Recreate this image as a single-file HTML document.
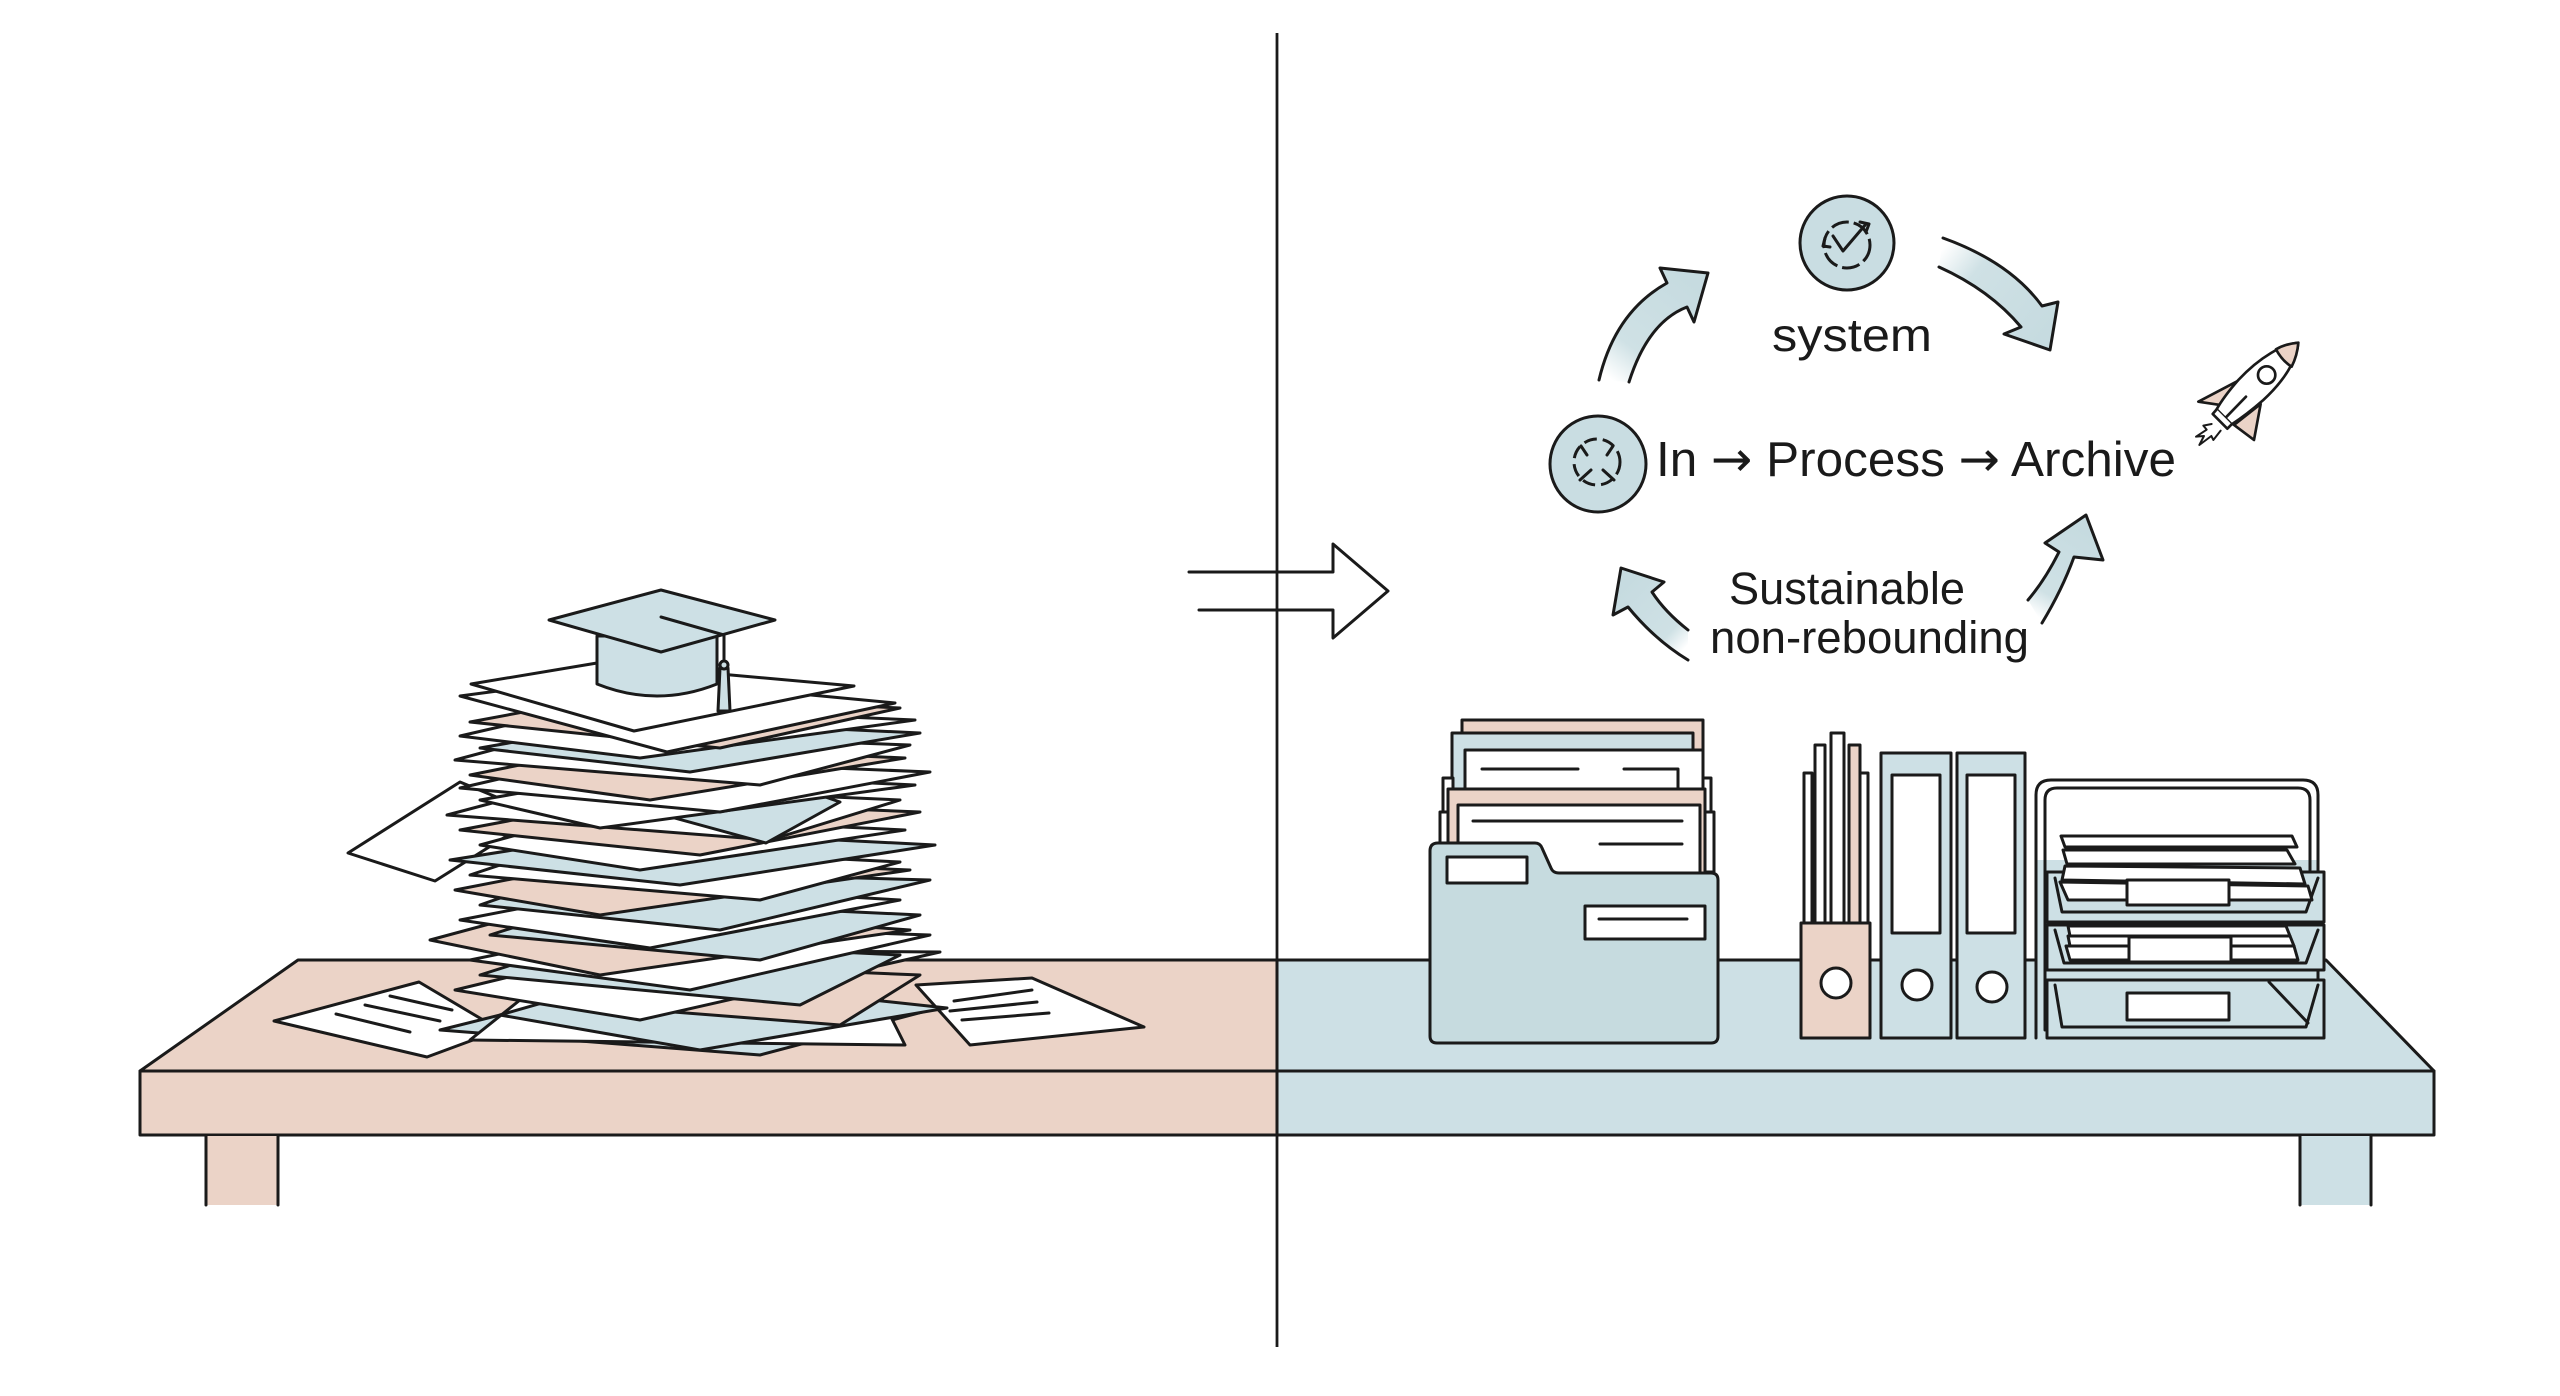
<!DOCTYPE html>
<html>
<head>
<meta charset="utf-8">
<style>
  html,body{margin:0;padding:0;background:#ffffff;}
  svg{display:block;}
  .k{stroke:#1a1a1a;stroke-width:3;stroke-linejoin:round;stroke-linecap:round;}
  .w{fill:#ffffff;stroke:#1a1a1a;stroke-width:3;stroke-linejoin:round;}
  .p{fill:#ebd3c7;stroke:#1a1a1a;stroke-width:3;stroke-linejoin:round;}
  .b{fill:#cde0e5;stroke:#1a1a1a;stroke-width:3;stroke-linejoin:round;}
  .n{fill:none;stroke:#1a1a1a;stroke-width:3;stroke-linejoin:round;stroke-linecap:round;}
  .t{font-family:"Liberation Sans",Arial,sans-serif;fill:#1a1a1a;}
  .ar{font-family:"DejaVu Sans",sans-serif;}
</style>
</head>
<body>
<svg width="2560" height="1396" viewBox="0 0 2560 1396" xmlns="http://www.w3.org/2000/svg">
<defs>
  <linearGradient id="g1" gradientUnits="userSpaceOnUse" x1="1612" y1="380" x2="1690" y2="280">
    <stop offset="0" stop-color="#ffffff"/><stop offset="0.3" stop-color="#cfe1e5"/><stop offset="1" stop-color="#c6dbe0"/>
  </linearGradient>
  <linearGradient id="g2" gradientUnits="userSpaceOnUse" x1="1940" y1="252" x2="2045" y2="335">
    <stop offset="0" stop-color="#ffffff"/><stop offset="0.3" stop-color="#cfe1e5"/><stop offset="1" stop-color="#c6dbe0"/>
  </linearGradient>
  <linearGradient id="g3" gradientUnits="userSpaceOnUse" x1="2035" y1="615" x2="2085" y2="530">
    <stop offset="0" stop-color="#ffffff"/><stop offset="0.25" stop-color="#cfe1e5"/><stop offset="1" stop-color="#c6dbe0"/>
  </linearGradient>
  <linearGradient id="g4" gradientUnits="userSpaceOnUse" x1="1688" y1="645" x2="1625" y2="585">
    <stop offset="0" stop-color="#ffffff"/><stop offset="0.25" stop-color="#cfe1e5"/><stop offset="1" stop-color="#c6dbe0"/>
  </linearGradient>
</defs>

<!-- ===== TABLES ===== -->
<polygon points="298,960 1277,960 1277,1071 140,1071" class="p"/>
<rect x="140" y="1071" width="1137" height="64" class="p"/>
<rect x="206" y="1136" width="72" height="69" fill="#ebd3c7"/>
<line x1="206" y1="1135" x2="206" y2="1205" class="k"/>
<line x1="278" y1="1135" x2="278" y2="1205" class="k"/>
<polygon points="1277,960 2326,960 2434,1071 1277,1071" class="b"/>
<rect x="1277" y="1071" width="1157" height="64" class="b"/>
<rect x="2300" y="1136" width="71" height="69" fill="#cde0e5"/>
<line x1="2300" y1="1135" x2="2300" y2="1205" class="k"/>
<line x1="2371" y1="1135" x2="2371" y2="1205" class="k"/>

<!-- ===== DIVIDER ===== -->
<line x1="1277" y1="33" x2="1277" y2="1347" stroke="#1a1a1a" stroke-width="2.8"/>

<!-- ===== TRANSITION ARROW ===== -->
<path d="M1189,572 L1333,572 L1333,544 L1388,591 L1333,638 L1333,610 L1199,610" class="n"/>

<!-- ===== LEFT: PAPER PILE ===== -->
<polygon points="274,1021 419,982 500,1030 427,1057" class="w"/>
<line x1="336" y1="1014" x2="410" y2="1032" class="k"/>
<line x1="365" y1="1005" x2="440" y2="1021" class="k"/>
<line x1="390" y1="996" x2="452" y2="1010" class="k"/>
<polygon points="916,985 1032,978 1144,1027 970,1045" class="w"/>
<line x1="954" y1="1001" x2="1032" y2="990" class="k"/>
<line x1="950" y1="1011" x2="1037" y2="1002" class="k"/>
<line x1="962" y1="1020" x2="1049" y2="1013" class="k"/>

<polygon points="440,1030 600,990 930,1010 760,1055" class="b"/>
<polygon points="470,1040 520,1000 880,995 905,1045" class="w"/>
<polygon points="500,1015 640,975 947,1008 700,1050" class="b"/>
<polygon points="520,1000 560,960 920,975 840,1025" class="p"/>
<polygon points="455,990 620,950 940,952 640,1020" class="w"/>
<polygon points="480,975 590,940 900,955 800,1005" class="b"/>
<polygon points="470,960 640,925 930,935 690,990" class="w"/>
<polygon points="430,940 560,905 910,930 600,975" class="p"/>
<polygon points="490,935 600,900 920,915 760,960" class="b"/>
<polygon points="460,920 640,885 900,900 650,948" class="w"/>
<polygon points="480,905 580,870 930,880 720,930" class="b"/>
<polygon points="348,853 460,782 540,815 435,881" class="w"/>
<polygon points="455,890 620,858 910,870 600,915" class="p"/>
<polygon points="470,875 560,845 900,862 760,900" class="w"/>
<polygon points="450,860 640,830 935,845 680,885" class="b"/>
<polygon points="480,845 590,815 905,830 640,870" class="w"/>
<polygon points="460,830 620,800 920,812 700,855" class="p"/>
<polygon points="447,815 560,785 900,800 770,840" class="w"/>
<polygon points="609,800 805,790 840,802 766,843" class="b"/>
<polygon points="480,800 640,772 915,785 600,828" class="w"/>
<polygon points="460,788 590,758 930,772 720,812" class="w"/>
<polygon points="470,775 620,745 905,758 650,800" class="p"/>
<polygon points="455,760 560,732 910,745 760,785" class="w"/>
<polygon points="480,748 640,720 920,733 690,772" class="b"/>
<polygon points="460,736 590,706 915,720 640,758" class="w"/>
<polygon points="470,722 620,694 900,708 720,748" class="p"/>
<polygon points="460,696 610,676 895,703 667,752" class="w"/>
<polygon points="471,684 597,663 854,686 634,731" class="w"/>

<!-- graduation cap -->
<path d="M597,636 L597,684 Q657,708 717,684 L717,636 Z" class="b"/>
<polygon points="549,620 661,590 775,620 661,652" class="b"/>
<polygon points="720,668 728,668 730,711 718,711" class="b"/>
<polyline points="661,617 724,635 724,668" class="n"/>
<circle cx="724" cy="665" r="4" class="b"/>

<!-- ===== RIGHT: ORGANIZED ===== -->
<rect x="1462" y="720" width="241" height="150" class="p"/>
<rect x="1452" y="733" width="241" height="140" class="b"/>
<rect x="1443" y="778" width="10" height="95" class="w"/>
<rect x="1701" y="778" width="10" height="95" class="w"/>
<rect x="1465" y="750" width="238" height="130" class="w"/>
<line x1="1482" y1="769" x2="1578" y2="769" class="k"/>
<polyline points="1624,769 1678,769 1678,788" class="n"/>
<rect x="1440" y="812" width="10" height="60" class="w"/>
<rect x="1704" y="812" width="10" height="60" class="w"/>
<rect x="1448" y="789" width="257" height="90" class="p"/>
<rect x="1458" y="805" width="242" height="75" class="w"/>
<line x1="1473" y1="821" x2="1682" y2="821" class="k"/>
<line x1="1600" y1="844" x2="1682" y2="844" class="k"/>
<path d="M1430,851 Q1430,843 1438,843 L1535,843 Q1540,843 1542,848 L1551,868 Q1553,873 1559,873 L1711,873 Q1718,873 1718,880 L1718,1036 Q1718,1043 1711,1043 L1437,1043 Q1430,1043 1430,1036 Z" fill="#c6dbdf" stroke="#1a1a1a" stroke-width="3"/>
<rect x="1447" y="857" width="80" height="26" class="w"/>
<rect x="1585" y="906" width="120" height="33" class="w"/>
<line x1="1599" y1="919" x2="1687" y2="919" class="k"/>

<!-- magazine holder -->
<rect x="1804" y="773" width="8" height="150" class="w"/>
<rect x="1815" y="745" width="10" height="178" class="w"/>
<rect x="1831" y="733" width="13" height="190" class="w"/>
<rect x="1849" y="745" width="11" height="178" class="p"/>
<rect x="1860" y="773" width="8" height="150" class="w"/>
<rect x="1801" y="923" width="69" height="115" class="p"/>
<ellipse cx="1836" cy="983" rx="15" ry="15" class="w"/>

<!-- binders -->
<rect x="1881" y="753" width="70" height="285" class="b"/>
<rect x="1892" y="775" width="48" height="158" class="w"/>
<ellipse cx="1917" cy="985" rx="15" ry="15" class="w"/>
<rect x="1957" y="753" width="68" height="285" class="b"/>
<rect x="1967" y="775" width="48" height="158" class="w"/>
<ellipse cx="1992" cy="987" rx="15" ry="15" class="w"/>

<!-- tray organizer -->
<rect x="2036" y="860" width="282" height="178" fill="#cde0e5"/>
<path d="M2036,1038 L2036,795 Q2036,780 2051,780 L2303,780 Q2318,780 2318,795 L2318,1038" class="n"/>
<path d="M2045,1030 L2045,800 Q2045,788 2057,788 L2298,788 Q2310,788 2310,800 L2310,870" class="n"/>
<rect x="2047" y="872" width="277" height="50" class="b"/>
<polyline points="2055,878 2062,912 2306,912 2318,878" class="n"/>
<polygon points="2060,882 2308,886 2312,900 2068,900" class="w"/>
<polygon points="2065,866 2300,868 2305,884 2062,880" class="w"/>
<polygon points="2063,850 2287,850 2295,864 2067,864" class="w"/>
<polygon points="2061,836 2292,836 2297,847 2065,847" class="w"/>
<rect x="2127" y="880" width="102" height="25" class="w"/>
<rect x="2047" y="925" width="277" height="45" class="b"/>
<polyline points="2055,930 2064,963 2306,963 2318,930" class="n"/>
<polygon points="2066,946 2294,946 2298,960 2070,960" class="w"/>
<polygon points="2068,936 2290,936 2294,946 2070,946" class="w"/>
<polygon points="2068,926 2286,926 2290,936 2070,936" class="w"/>
<rect x="2129" y="937" width="102" height="25" class="w"/>
<rect x="2047" y="980" width="277" height="58" class="b"/>
<polyline points="2055,985 2062,1027 2306,1027 2318,985" class="n"/>
<line x1="2269" y1="982" x2="2308" y2="1023" class="k"/>
<rect x="2127" y="993" width="102" height="27" class="w"/>

<!-- ===== CYCLE DIAGRAM ===== -->
<path d="M1599,380 Q1615,312 1667,283 L1660,268 L1708,273 L1694,322 L1687,307 Q1648,322 1629,382 Z" fill="url(#g1)"/>
<path d="M1599,380 Q1615,312 1667,283 L1660,268 L1708,273 L1694,322 L1687,307 Q1648,322 1629,382" class="n"/>

<path d="M1943,238 Q2010,262 2042,306 L2058,302 L2050,350 L2004,334 L2021,327 Q1990,290 1939,267 Z" fill="url(#g2)"/>
<path d="M1943,238 Q2010,262 2042,306 L2058,302 L2050,350 L2004,334 L2021,327 Q1990,290 1939,267" class="n"/>

<path d="M2042,623 Q2062,590 2074,557 L2103,560 L2086,515 L2045,543 L2059,552 Q2045,580 2028,600 Z" fill="url(#g3)"/>
<path d="M2042,623 Q2062,590 2074,557 L2103,560 L2086,515 L2045,543 L2059,552 Q2045,580 2028,600" class="n"/>

<path d="M1688,630 Q1665,612 1652,592 L1664,582 L1621,568 L1613,615 L1628,607 Q1655,640 1688,660 Z" fill="url(#g4)"/>
<path d="M1688,630 Q1665,612 1652,592 L1664,582 L1621,568 L1613,615 L1628,607 Q1655,640 1688,660" class="n"/>

<!-- top circle -->
<circle cx="1847" cy="243" r="47" fill="#c9dde2" stroke="#1a1a1a" stroke-width="3"/>
<circle cx="1847" cy="245" r="23" fill="none" stroke="#1a1a1a" stroke-width="3" stroke-dasharray="18 5"/>
<polyline points="1833,236 1843,251 1866,224" class="n" stroke-width="3.4"/>
<polyline points="1860,222 1869,224 1866,232" class="n" stroke-width="2.2"/>
<polyline points="1825,238 1823,246 1830,247" class="n" stroke-width="2.2"/>

<!-- left circle -->
<circle cx="1598" cy="464" r="48" fill="#c9dde2" stroke="#1a1a1a" stroke-width="3"/>
<circle cx="1597" cy="462" r="23" fill="none" stroke="#1a1a1a" stroke-width="3" stroke-dasharray="13 6"/>
<line x1="1580" y1="480" x2="1591" y2="470" class="k" stroke-width="2.2"/>
<line x1="1614" y1="480" x2="1603" y2="470" class="k" stroke-width="2.2"/>
<line x1="1581" y1="446" x2="1587" y2="455" class="k" stroke-width="2.2"/>
<line x1="1613" y1="446" x2="1607" y2="455" class="k" stroke-width="2.2"/>

<!-- texts -->
<text x="1772" y="351" class="t" font-size="46" textLength="160" lengthAdjust="spacingAndGlyphs">system</text>
<text x="1656" y="476" class="t" font-size="49" textLength="520" lengthAdjust="spacingAndGlyphs">In <tspan class="ar">→</tspan> Process <tspan class="ar">→</tspan> Archive</text>
<text x="1729" y="604" class="t" font-size="45" textLength="236" lengthAdjust="spacingAndGlyphs">Sustainable</text>
<text x="1710" y="653" class="t" font-size="45" textLength="319" lengthAdjust="spacingAndGlyphs">non-rebounding</text>

<!-- rocket -->
<g transform="translate(2170,330) scale(0.3333)">
  <g stroke="#1a1a1a" stroke-width="8" stroke-linejoin="round" stroke-linecap="round">
    <polygon points="205,152 85,215 150,225" fill="#ebd3c7"/>
    <polygon points="272,222 252,330 192,285" fill="#ebd3c7"/>
    <path d="M385,38 C340,42 270,80 205,150 C170,190 150,220 140,238 L185,283 C205,270 240,245 280,210 C345,150 380,90 385,38 Z" fill="#ffffff"/>
    <path d="M385,38 C360,40 335,48 318,58 C330,80 345,98 365,110 C375,90 383,65 385,38 Z" fill="#ebd3c7"/>
    <circle cx="290" cy="135" r="26" fill="#ffffff"/>
    <path d="M228,200 L168,262" fill="none"/>
    <path d="M140,238 L128,252 L172,296 L185,283" fill="#ffffff"/>
    <path d="M125,282 L100,287 L110,299 L78,320 L102,318 L88,345 L124,318 L130,330 L152,302" fill="none" stroke-width="6"/>
  </g>
</g>
</svg>
</body>
</html>
